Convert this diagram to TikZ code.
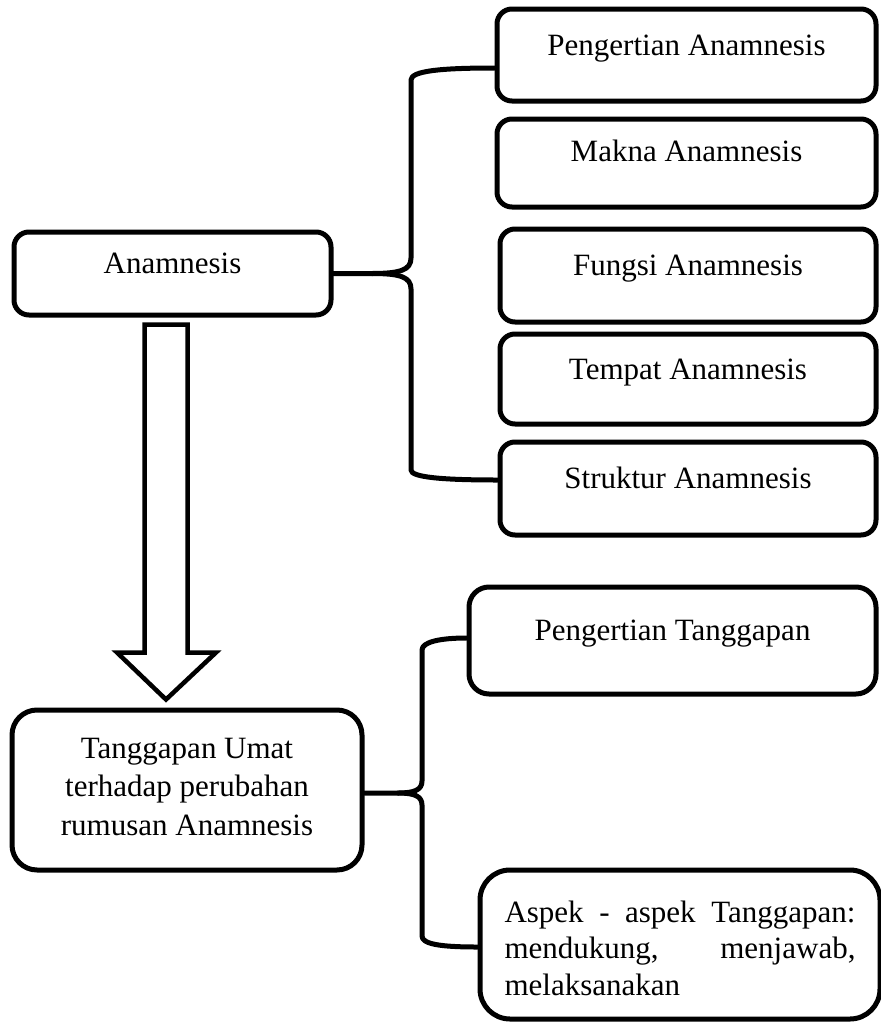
\documentclass[tikz,border=0pt]{standalone}
\usepackage{fontspec}
\setmainfont{Liberation Serif}
\usetikzlibrary{calc}
\tikzset{
    box/.style={draw, line width=5pt, rounded corners=15pt, inner sep=0pt,
        font=\fontsize{31}{38.5}\selectfont, align=center,
        text height=20pt, text depth=20pt},
    brace/.style={line width=5pt, line join=round, line cap=round},
    bigarrow/.style={line width=4.5pt, line join=miter}
}
\begin{document}
\begin{tikzpicture}[x=1pt,y=-1pt]
        \useasboundingbox (0,0) rectangle (881,1023);
        \node[box, minimum width=317pt, minimum height=83pt] (anamnesis) at (172.5,273.5) {Anamnesis};
        \node[box, minimum width=379pt, minimum height=92pt] (pengertian) at (686.5,55) {Pengertian Anamnesis};
        \node[box, minimum width=379pt, minimum height=88pt, text depth=24pt] (makna) at (686.5,163) {Makna Anamnesis};
        \node[box, minimum width=376pt, minimum height=93pt] (fungsi) at (688,275.5) {Fungsi Anamnesis};
        \node[box, minimum width=376pt, minimum height=90pt] (tempat) at (688,379) {Tempat Anamnesis};
        \node[box, minimum width=376pt, minimum height=93pt] (struktur) at (688,488.5) {Struktur Anamnesis};
        \node[box, rounded corners=25pt, minimum width=350pt, minimum height=160pt,
            text height=100pt, text depth=10pt] (tanggapan) at (187,790)
            {Tanggapan Umat\\terhadap perubahan\\rumusan Anamnesis};
        \node[box, rounded corners=20pt, minimum width=407pt, minimum height=107pt] (pengertianT) at (672.5,640.5) {Pengertian Tanggapan};
        \node[box, rounded corners=30pt, minimum width=400pt, minimum height=149pt,
            text width=351pt, align=left, text depth=65pt,
            font=\fontsize{31}{36.5}\selectfont] (aspek) at (680,944.5)
            {Aspek\hfill-\hfill aspek\hfill Tanggapan:\\mendukung,\hfill menjawab,\\melaksanakan};
        % Kurung kurawal atas
        \draw[brace] (anamnesis.east) -- (372,273.5)
            .. controls (400,273.5) and (411,270) .. (411,258) -- (411,80)
            .. controls (411,71) and (440,68) .. ($(pengertian.west)+(0,13)$);
        \draw[brace] (372,273.5)
            .. controls (400,273.5) and (411,277) .. (411,289) -- (411,470)
            .. controls (411,477) and (440,480) .. ($(struktur.west)+(0,-8.5)$);
        % Kurung kurawal bawah
        \draw[brace] ($(tanggapan.east)+(0,3)$) -- (398,793)
            .. controls (414,793) and (422,790) .. (422,781) -- (422,650)
            .. controls (422,642) and (440,638) .. ($(pengertianT.west)+(0,-2.5)$);
        \draw[brace] (398,793)
            .. controls (414,793) and (422,796) .. (422,805) -- (422,936)
            .. controls (422,944) and (440,947) .. ($(aspek.west)+(0,2.5)$);
        % Panah besar
        \draw[bigarrow] ($(anamnesis.south)+(-28,7)$) -- ++(43,0) -- ++(0,328) -- ++(28.5,0)
            -- ++(-50,47) -- ++(-49,-47) -- ++(27.5,0) -- cycle;
\end{tikzpicture}
\end{document}
